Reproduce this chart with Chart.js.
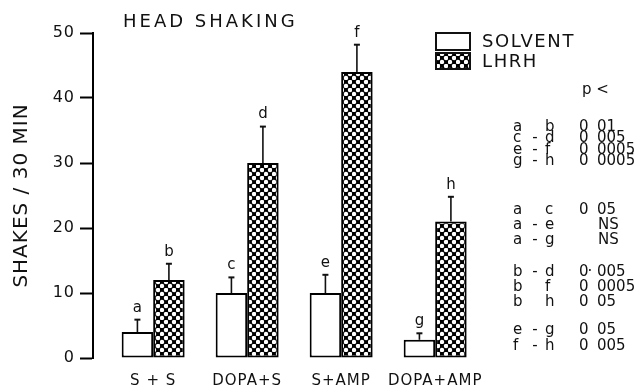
<!DOCTYPE html>
<html>
<head>
<meta charset="utf-8">
<title>Head shaking</title>
<script src="https://cdn.jsdelivr.net/npm/chart.js@4/dist/chart.umd.min.js"></script>
<style>
  html, body { margin: 0; padding: 0; background: #fff; }
  canvas { display: block; }
</style>
</head>
<body>
<canvas id="chart" width="638" height="392"></canvas>
<script>
// Treatment groups and mean shakes / 30 min (with SEM) for each pretreatment
const groups = ['S + S', 'DOPA+S', 'S+AMP', 'DOPA+AMP'];
const solventMean = [4, 10, 10, 2.8];
const solventSem = [1.9, 2.4, 2.8, 1.0];
const lhrhMean = [12, 30, 44, 21];
const lhrhSem = [2.5, 5.6, 4.2, 3.8];
const solventTags = ['a', 'c', 'e', 'g'];
const lhrhTags = ['b', 'd', 'f', 'h'];
const yTicks = [0, 10, 20, 30, 40, 50];

// Pairwise comparisons: first bar, separator, second bar, p <
const pairFirst = ['a', 'c', 'e', 'g', 'a', 'a', 'a', 'b', 'b', 'b', 'e', 'f'];
const pairSep   = ['',  '-', '-', '-', '',  '-', '-', '-', '',  '',  '-', '-'];
const pairSecond = ['b', 'd', 'f', 'h', 'c', 'e', 'g', 'd', 'f', 'h', 'g', 'h'];
const pairP = ['0 01', '0 005', '0 0005', '0 0005', '0 05', 'NS', 'NS',
               '0·005', '0 0005', '0 05', '0 05', '0 005'];

const FONT = '"DejaVu Sans", sans-serif';
const INK = '#111';

// Dotted fill used for the LHRH bars
function dotPattern() {
  const t = document.createElement('canvas');
  t.width = 8; t.height = 8;
  const g = t.getContext('2d');
  g.fillStyle = '#000';
  g.fillRect(0, 0, 8, 8);
  g.fillStyle = '#fff';
  [[2, 6], [6, 2]].forEach(([x, y]) => {
    g.beginPath(); g.arc(x, y, 2.2, 0, Math.PI * 2); g.fill();
  });
  return document.getElementById('chart').getContext('2d').createPattern(t, 'repeat');
}
const dots = dotPattern();

const sems = [solventSem, lhrhSem];
const tags = [solventTags, lhrhTags];

// Sets the letter spacing used by the axis text
const spacingPlugin = {
  id: 'spacing',
  beforeDraw(chart) { chart.ctx.letterSpacing = '1px'; }
};

// Error whiskers, bar letters, title, key and the p table
const annotations = {
  id: 'annotations',
  afterDatasetsDraw(chart) {
    const ctx = chart.ctx;
    const y = chart.scales.y;
    ctx.save();
    ctx.strokeStyle = INK;
    ctx.fillStyle = INK;
    ctx.letterSpacing = '0px';
    ctx.font = '15px ' + FONT;
    ctx.textAlign = 'center';
    ctx.textBaseline = 'middle';
    chart.data.datasets.forEach((ds, di) => {
      const meta = chart.getDatasetMeta(di);
      meta.data.forEach((bar, i) => {
        const top = y.getPixelForValue(ds.data[i].y + sems[di][i]);
        ctx.lineWidth = 1.6;
        ctx.beginPath();
        ctx.moveTo(bar.x, bar.y);
        ctx.lineTo(bar.x, top);
        ctx.stroke();
        ctx.lineWidth = 2;
        ctx.beginPath();
        ctx.moveTo(bar.x - 3, top);
        ctx.lineTo(bar.x + 3, top);
        ctx.stroke();
        ctx.fillText(tags[di][i], bar.x, top - 12);
      });
    });
    ctx.restore();
  },
  afterDraw(chart) {
    const ctx = chart.ctx;
    ctx.save();
    ctx.fillStyle = INK;
    ctx.strokeStyle = INK;
    ctx.textBaseline = 'middle';
    ctx.textAlign = 'left';

    // Title
    ctx.letterSpacing = '3px';
    ctx.font = '18px ' + FONT;
    ctx.fillText('HEAD SHAKING', 123, 22);

    // Key
    ctx.letterSpacing = '1.6px';
    ctx.lineWidth = 2;
    chart.data.datasets.forEach((ds, i) => {
      const by = i === 0 ? 33 : 53;
      const bh = i === 0 ? 17 : 16;
      ctx.fillStyle = ds.backgroundColor;
      ctx.fillRect(436, by, 34, bh);
      ctx.strokeRect(436, by, 34, bh);
      ctx.fillStyle = INK;
      ctx.fillText(ds.label, 482, by + bh / 2 + 1);
    });

    // Significance table
    ctx.letterSpacing = '0px';
    ctx.font = '15px ' + FONT;
    ctx.fillText('p <', 582, 90);
    const rowY = [127, 138.5, 150, 161.5, 210, 225, 240, 272, 287, 302, 330, 346];
    pairFirst.forEach((f, i) => {
      const ry = rowY[i];
      ctx.textAlign = 'left';
      ctx.fillText(f, 513, ry);
      ctx.fillText(pairSecond[i], 545, ry);
      if (pairSep[i]) {
        ctx.textAlign = 'center';
        ctx.fillText(pairSep[i], 535, ry);
        ctx.textAlign = 'left';
      }
      const p = pairP[i];
      if (p === 'NS') {
        ctx.fillText(p, 598, ry);
      } else {
        const dot = p.indexOf('·') >= 0;
        const parts = p.split(dot ? '·' : ' ');
        ctx.fillText(parts[0], 579, ry);
        if (dot) {
          ctx.textAlign = 'center';
          ctx.fillText('·', 590, ry);
          ctx.textAlign = 'left';
        }
        ctx.fillText(parts[1], 597, ry);
      }
    });
    ctx.restore();
  }
};

new Chart(document.getElementById('chart'), {
  type: 'bar',
  data: {
    datasets: [
      {
        label: 'SOLVENT',
        data: solventMean.map((v, i) => ({ x: i, y: v })),
        backgroundColor: '#fff',
        borderColor: '#000',
        borderWidth: 2,
        borderSkipped: false
      },
      {
        label: 'LHRH',
        data: lhrhMean.map((v, i) => ({ x: i, y: v })),
        backgroundColor: dots,
        borderColor: '#000',
        borderWidth: 2,
        borderSkipped: false
      }
    ]
  },
  options: {
    responsive: false,
    animation: false,
    events: [],
    categoryPercentage: 0.67,
    barPercentage: 1.0,
    layout: { padding: { top: 33, right: 122, bottom: -12, left: 0 } },
    plugins: {
      legend: { display: false },
      tooltip: { enabled: false },
      title: { display: false }
    },
    scales: {
      x: {
        type: 'linear',
        offset: false,
        min: -0.64,
        max: 3.86,
        grid: { display: false, drawTicks: false, offset: false },
        border: { display: false },
        afterBuildTicks(scale) {
          scale.ticks = groups.map((g, i) => ({ value: i }));
        },
        ticks: {
          autoSkip: false,
          maxRotation: 0,
          minRotation: 0,
          padding: 14,
          color: INK,
          font: { family: FONT, size: 15 },
          callback: (v) => groups[v]
        }
      },
      y: {
        min: 0,
        max: 50,
        afterFit(scale) { scale.width = 93; },
        afterBuildTicks(scale) {
          scale.ticks = yTicks.map(v => ({ value: v }));
        },
        grid: {
          drawOnChartArea: false,
          drawTicks: true,
          tickLength: 13,
          tickWidth: 2,
          tickColor: '#000'
        },
        border: { display: true, width: 2, color: '#000' },
        ticks: {
          padding: 5,
          color: INK,
          font: { family: FONT, size: 16 }
        },
        title: {
          display: true,
          text: 'SHAKES / 30 MIN',
          color: INK,
          font: { family: FONT, size: 20 },
          padding: { top: 10, bottom: 0 }
        }
      }
    }
  },
  plugins: [spacingPlugin, annotations]
});
</script>
</body>
</html>
